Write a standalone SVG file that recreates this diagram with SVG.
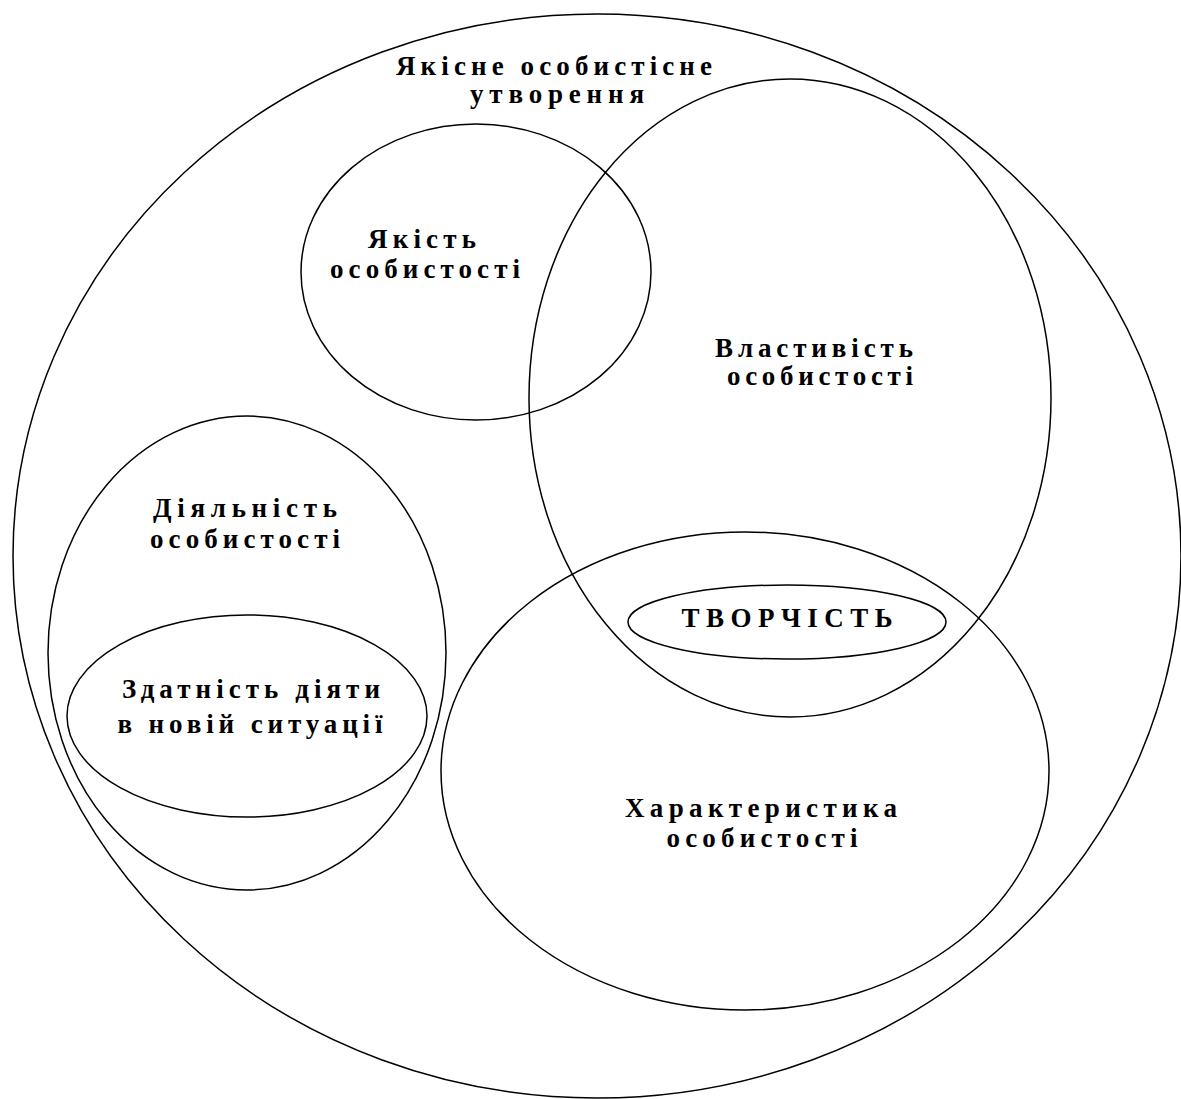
<svg xmlns="http://www.w3.org/2000/svg" width="1181" height="1099" viewBox="0 0 1181 1099">
<style>
.e{fill:none;stroke:#000;stroke-width:1.5}
.t{font-family:"Liberation Serif","DejaVu Serif",serif;font-weight:bold;font-size:27px;fill:#000;text-anchor:middle}
</style>
<rect width="1181" height="1099" fill="#fff"/>
<g id="outer">
<ellipse class="e" cx="597" cy="556" rx="584" ry="542"/>
<text class="t" x="554" y="75" textLength="316" lengthAdjust="spacing">Якісне особистісне</text>
<text class="t" x="557" y="103" textLength="174" lengthAdjust="spacing">утворення</text>
</g>
<g id="yakist">
<ellipse class="e" cx="476" cy="272" rx="175" ry="148"/>
<text class="t" x="422" y="248" textLength="108" lengthAdjust="spacing">Якість</text>
<text class="t" x="425" y="278" textLength="190" lengthAdjust="spacing">особистості</text>
</g>
<g id="vlastyvist">
<ellipse class="e" cx="790" cy="398" rx="261" ry="319"/>
<text class="t" x="814" y="357" textLength="198" lengthAdjust="spacing">Властивість</text>
<text class="t" x="820" y="385" textLength="186" lengthAdjust="spacing">особистості</text>
</g>
<g id="diyalnist">
<ellipse class="e" cx="247" cy="653" rx="199" ry="237"/>
<text class="t" x="245" y="517" textLength="184" lengthAdjust="spacing">Діяльність</text>
<text class="t" x="245" y="548" textLength="190" lengthAdjust="spacing">особистості</text>
</g>
<g id="zdatnist">
<ellipse class="e" cx="247" cy="716" rx="180" ry="101"/>
<text class="t" x="251" y="698" textLength="258" lengthAdjust="spacing">Здатність діяти</text>
<text class="t" x="250" y="733" textLength="265" lengthAdjust="spacing">в новій ситуації</text>
</g>
<g id="kharakterystyka">
<ellipse class="e" cx="745" cy="771" rx="304" ry="239"/>
<text class="t" x="761" y="817" textLength="272" lengthAdjust="spacing">Характеристика</text>
<text class="t" x="762" y="847" textLength="191" lengthAdjust="spacing">особистості</text>
</g>
<g id="tvorchist">
<ellipse class="e" cx="787" cy="622" rx="159" ry="37"/>
<text class="t" x="787" y="627" textLength="211" lengthAdjust="spacing">ТВОРЧІСТЬ</text>
</g>
<g id="connectors"/>
</svg>
